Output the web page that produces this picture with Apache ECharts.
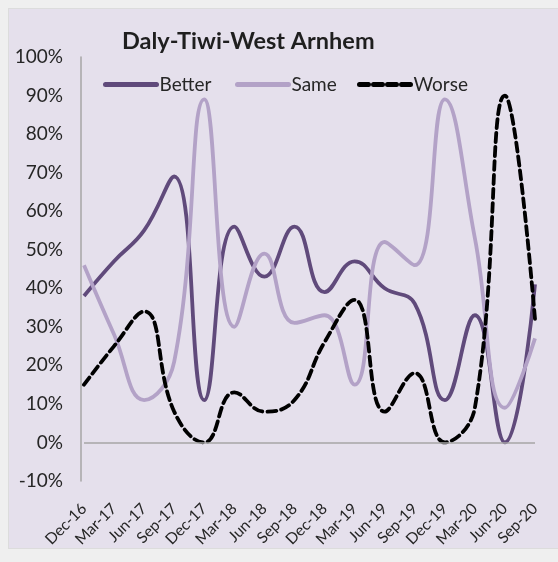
<!DOCTYPE html>
<html>
<head>
<meta charset="utf-8">
<script src="https://cdn.jsdelivr.net/npm/echarts@6/dist/echarts.min.js"></script>
<style>
  html, body { margin: 0; padding: 0; background: #efefef; }
  .frame {
    position: absolute; left: 8px; top: 8px; width: 552px; height: 539px;
    background: #e5e0ec; border: 1px solid #dcdcdc;
  }
  #chart { position: absolute; left: 0; top: 0; width: 558px; height: 562px; }
</style>
</head>
<body>
<div class="frame"></div>
<div id="chart"></div>
<script>
// 季度
const quarters = ['Dec-16', 'Mar-17', 'Jun-17', 'Sep-17', 'Dec-17', 'Mar-18', 'Jun-18', 'Sep-18',
  'Dec-18', 'Mar-19', 'Jun-19', 'Sep-19', 'Dec-19', 'Mar-20', 'Jun-20', 'Sep-20'];
// 各系列数值 (%)
const better = [38, 47, 55, 69, 11, 56, 43, 56, 39, 47, 40, 36, 11, 33, 0, 41];
const same = [46, 28, 11, 21, 89, 30, 49, 31, 33, 15, 52, 46, 89, 53, 9, 27];
const worse = [15, 25, 34, 8, 0, 13, 8, 11, 26, 37, 8, 18, 0, 9, 90, 32];

const font = 'Lato, "Open Sans", sans-serif';

// 每个图例单独放置
function legendAt(name, left) {
  return {
    top: 70,
    left: left,
    itemWidth: 51,
    itemHeight: 6,
    lineStyle: { width: 5, cap: 'round' },
    textStyle: { fontFamily: font, fontSize: 19, color: '#262626', padding: [0, 0, 0, -2] },
    data: [{ name: name, itemStyle: { opacity: 0 } }]
  };
}

const chart = echarts.init(document.getElementById('chart'));
chart.setOption({
  animation: false,
  backgroundColor: 'transparent',
  title: {
    text: 'Daly-Tiwi-West Arnhem',
    left: 117,
    top: 24,
    textStyle: { fontFamily: font, fontSize: 23.5, fontWeight: 'bold', color: '#1f1f1f' }
  },
  legend: [legendAt('Better', 98), legendAt('Same', 230), legendAt('Worse', 352)],
  grid: { left: 84, right: 23, top: 57, bottom: 81, outerBoundsMode: 'none' },
  xAxis: {
    type: 'category',
    data: quarters,
    boundaryGap: false,
    axisLine: { show: false },
    axisTick: { show: false },
    axisLabel: {
      rotate: 45, interval: 0, margin: 25,
      fontFamily: font, fontSize: 15.5, color: '#262626'
    }
  },
  yAxis: {
    type: 'value',
    min: -10, max: 100, interval: 10,
    offset: 3,
    axisLine: { show: true, lineStyle: { color: '#a6a6a6', width: 1.5 } },
    axisTick: { show: false },
    splitLine: { show: false },
    axisLabel: {
      formatter: '{value}%', margin: 18,
      fontFamily: font, fontSize: 19, color: '#262626'
    }
  },
  series: [
    {
      name: 'Better', type: 'line', data: better, smooth: 0.45, symbol: 'none',
      lineStyle: { color: '#604a7b', width: 3.8 }, itemStyle: { color: '#604a7b' },
      markLine: {
        silent: true, symbol: 'none', label: { show: false },
        lineStyle: { color: '#a6a6a6', width: 1.5, type: 'solid' },
        data: [{ yAxis: 0 }]
      }
    },
    {
      name: 'Same', type: 'line', data: same, smooth: 0.45, symbol: 'none',
      lineStyle: { color: '#b3a2c7', width: 3.8 }, itemStyle: { color: '#b3a2c7' }
    },
    {
      name: 'Worse', type: 'line', data: worse, smooth: 0.45, symbol: 'none',
      lineStyle: { color: '#000000', width: 3.8, type: [9, 5], cap: 'round' },
      itemStyle: { color: '#000000' }, z: 3
    }
  ]
});
</script>
</body>
</html>
